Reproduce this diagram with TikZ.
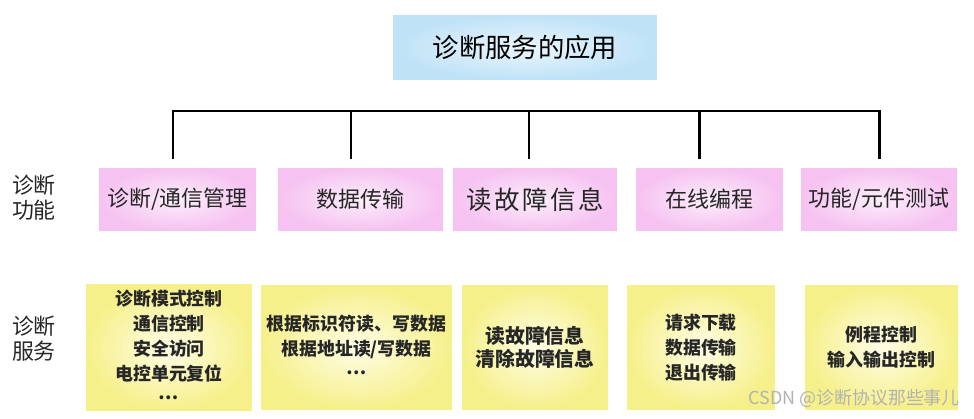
\documentclass[tikz,border=0pt]{standalone}
\usepackage{fontspec}
\newfontfamily\cjk{Noto Sans CJK SC}
\definecolor{titleedge}{HTML}{BFE2F7}
\definecolor{titlecore}{HTML}{EAF6FD}
\definecolor{pinkedge}{HTML}{F6C2F1}
\definecolor{pinkcore}{HTML}{FCEEFB}
\definecolor{yellowedge}{HTML}{F6F08A}
\definecolor{yellowcore}{HTML}{FEFDE6}
\definecolor{textgray}{HTML}{262626}
\newcommand{\middots}{\raisebox{0.3em}{…}}

\begin{document}
\begin{tikzpicture}[x=0.02cm, y=-0.02cm,
    titlebox/.style={shading=radial, inner color=titlecore, outer color=titleedge,
        minimum width=5.28cm, minimum height=1.3cm, font=\cjk\fontsize{15}{18}\selectfont},
    funcbox/.style={shading=radial, inner color=pinkcore, outer color=pinkedge,
        minimum height=1.26cm, text=textgray, font=\cjk\fontsize{12.5}{15}\selectfont},
    servbox/.style={shading=radial, inner color=yellowcore, outer color=yellowedge,
        minimum height=2.5cm, align=center, text=textgray,
        font=\cjk\bfseries\fontsize{10.2}{14.2}\selectfont},
    sidelabel/.style={align=center, text=textgray, font=\cjk\fontsize{12.5}{14.2}\selectfont},
    bus/.style={line width=1.7pt, line join=miter}]
    \useasboundingbox (0,0) rectangle (974,419);

    % Title
    \node[titlebox] (title) at (525,47.5) {诊断服务的应用};

    % Diagnostic functions
    \node[funcbox, minimum width=3.14cm] (f1) at (177.5,199.5) {诊断/通信管理};
    \node[funcbox, minimum width=3.30cm] (f2) at (360.5,199.5) {数据传输};
    \node[funcbox, minimum width=3.28cm, font=\cjk\fontsize{14.5}{17}\selectfont] (f3) at (535,199.5) {\addfontfeature{LetterSpace=10}读故障信息};
    \node[funcbox, minimum width=2.94cm] (f4) at (709.5,199.5) {在线编程};
    \node[funcbox, minimum width=3.12cm] (f5) at (879,199.5) {功能/元件测试};

    % Diagnostic services
    \node[servbox, minimum width=3.32cm] (s1) at (169,347.5) {诊断模式控制\\通信控制\\安全访问\\电控单元复位\\\middots};
    \node[servbox, minimum width=3.82cm] (s2) at (356.5,347.5) {根据标识符读、写数据\\根据地址读/写数据\\\middots};
    \node[servbox, minimum width=2.92cm, font=\cjk\bfseries\fontsize{11.3}{13.2}\selectfont] (s3) at (535,347.5) {读故障信息\\清除故障信息};
    \node[servbox, minimum width=2.96cm] (s4) at (701,347.5) {请求下载\\数据传输\\退出传输};
    \node[servbox, minimum width=3.06cm] (s5) at (881.5,347.5) {例程控制\\输入输出控制};

    % Row labels
    \node[sidelabel] (lfunc) at (34,198) {诊断\\功能};
    \node[sidelabel] (lserv) at (34,339) {诊断\\服务};

    % Bus above the function row
    \coordinate (bus) at (0,111);
    \foreach \x [count=\i] in {173,351,529,699,879}
        \coordinate (d\i) at (\x,159);
    \draw[bus] (d1) |- (bus -| d5) -- (d5);
    \foreach \i in {2,3,4}
        \draw[bus] (d\i) -- (d\i |- bus);

    % Watermark
    \node[anchor=east, text=gray!60, font=\cjk\fontsize{10.2}{12}\selectfont] (mark) at (966,399) {CSDN @诊断协议那些事儿};
\end{tikzpicture}
\end{document}
